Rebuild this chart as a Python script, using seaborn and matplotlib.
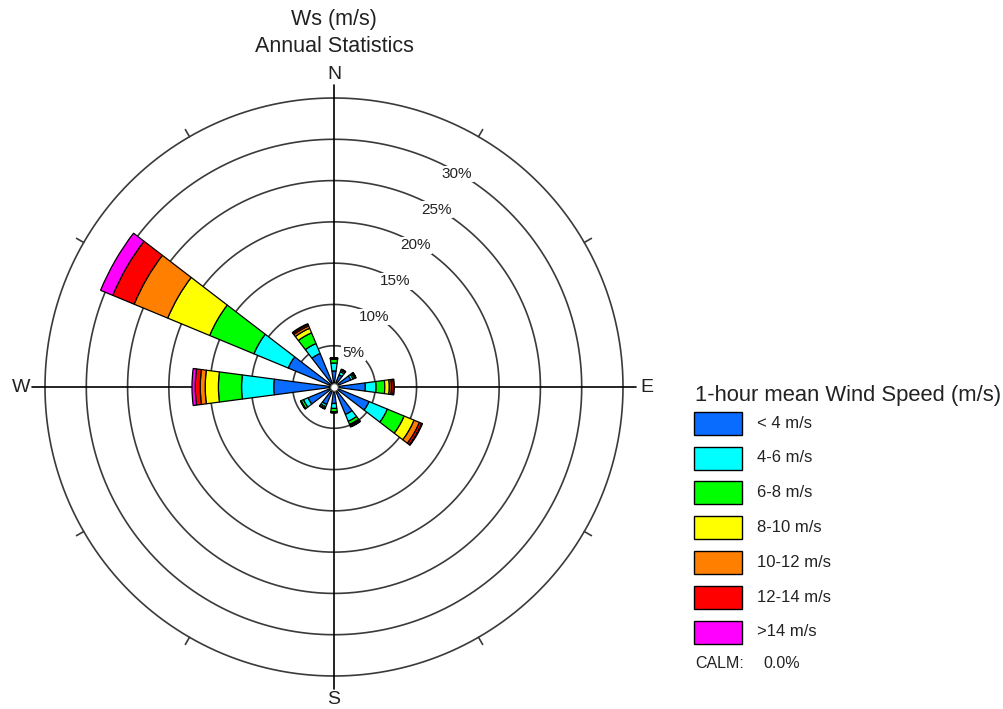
import numpy as np
import pandas as pd
import seaborn as sns
import matplotlib
matplotlib.use("Agg")
import matplotlib.pyplot as plt
from matplotlib.patches import Rectangle

# Direction sectors (degrees, clockwise from north)
directions = [0, 30, 60, 90, 120, 150, 180, 210, 240, 270, 300, 330]

# Frequency (%) of each speed class per direction
speed_classes = ["< 4 m/s", "4-6 m/s", "6-8 m/s", "8-10 m/s", "10-12 m/s", "12-14 m/s", ">14 m/s"]
lt4 = [1.95, 1.6, 2.2, 3.8, 4.6, 3.6, 2.0, 2.3, 3.4, 7.3, 6.0, 4.4]
s4_6 = [0.95, 0.4, 0.3, 1.3, 2.4, 0.9, 0.6, 0.3, 0.6, 3.9, 4.5, 1.3]
s6_8 = [0.45, 0.2, 0.2, 1.05, 2.2, 0.4, 0.4, 0.2, 0.3, 2.8, 5.8, 1.4]
s8_10 = [0.1, 0.05, 0.1, 0.55, 1.3, 0.1, 0.05, 0.05, 0.05, 1.6, 5.5, 0.6]
s10_12 = [0.05, 0.05, 0.05, 0.25, 0.7, 0.1, 0.05, 0.05, 0.05, 0.6, 4.4, 0.3]
s12_14 = [0.05, 0.05, 0.05, 0.25, 0.3, 0.1, 0.05, 0.0, 0.0, 0.6, 2.8, 0.2]
gt14 = [0.0, 0.0, 0.0, 0.1, 0.1, 0.05, 0.0, 0.0, 0.0, 0.4, 1.6, 0.1]
class_colors = ["#0A6CFF", "#00FFFF", "#00FF00", "#FFFF00", "#FF8000", "#FF0000", "#FF00FF"]

ring_levels = [5, 10, 15, 20, 25, 30, 35]
ring_labels = ["5%", "10%", "15%", "20%", "25%", "30%"]
compass = ["N", "E", "S", "W"]
calm_value = "0.0%"

df = pd.DataFrame(
    {"direction": directions, **dict(zip(speed_classes, [lt4, s4_6, s6_8, s8_10, s10_12, s12_14, gt14]))}
)

sns.set_style("white")
palette = sns.color_palette(class_colors)
font = ["Liberation Sans", "DejaVu Sans"]
plt.rcParams["font.family"] = font
txt_color = "#222222"

W, H = 1004, 709
fig = plt.figure(figsize=(W / 100, H / 100), dpi=100)
cx, cy, R = 334, 387, 289
ax = fig.add_axes([(cx - R) / W, (H - cy - R) / H, 2 * R / W, 2 * R / H], projection="polar")
ax.set_theta_zero_location("N")
ax.set_theta_direction(-1)
rmax = ring_levels[-1]
ax.set_ylim(0, rmax)
ax.grid(False)
ax.set_xticks([])
ax.set_yticks([])
ax.spines["polar"].set_visible(False)
ax.patch.set_alpha(0)

# Concentric rings
theta = np.linspace(0, 2 * np.pi, 721)
for lvl in ring_levels:
    ax.plot(theta, np.full_like(theta, lvl), color="#3a3a3a", lw=1.2, zorder=1, clip_on=False)

# Cross hairs and outer tick marks
for ang in range(0, 360, 90):
    t = np.deg2rad(ang)
    ax.plot([t, t], [0, 36.6], color="black", lw=1.2, zorder=2, clip_on=False)
for ang in range(0, 360, 30):
    if ang % 90:
        t = np.deg2rad(ang)
        ax.plot([t, t], [rmax, 36.0], color="#3a3a3a", lw=1.2, zorder=2, clip_on=False)

# Stacked wind-rose bars
width = np.deg2rad(15)
theta_dir = np.deg2rad(df["direction"].to_numpy())
bottom = np.zeros(len(df))
for cls, col in zip(speed_classes, palette):
    vals = df[cls].to_numpy()
    mask = vals > 0
    ax.bar(theta_dir[mask], vals[mask], width=width, bottom=bottom[mask], color=col,
           edgecolor="black", linewidth=0.9, zorder=3)
    bottom += vals

# Calm circle
ax.scatter([0], [0], s=30, color="white", edgecolors="#555555", linewidths=0.8, zorder=5)

# Ring labels along 30 degree bearing
for lvl, lab in zip(ring_levels[:-1], ring_labels):
    ax.text(np.deg2rad(30), lvl - 0.2, lab, ha="center", va="center", fontsize=11,
            color=txt_color, zorder=4,
            bbox=dict(facecolor="white", edgecolor="none", pad=1.0))

# Compass labels
for ang, lab in zip([0, 90, 180, 270], compass):
    ax.text(np.deg2rad(ang), 37.9, lab, ha="center", va="center", fontsize=14,
            color=txt_color, clip_on=False)

# Titles
fig.text(cx / W, 1 - 19 / H, "Ws (m/s)", ha="center", va="center", fontsize=15.5, color=txt_color)
fig.text(cx / W, 1 - 46.5 / H, "Annual Statistics", ha="center", va="center", fontsize=15.5,
         color=txt_color)

# Legend
fig.text(695 / W, 1 - 395 / H, "1-hour mean Wind Speed (m/s)", ha="left", va="center",
         fontsize=15.8, color=txt_color)
for i, (lab, col) in enumerate(zip(speed_classes, palette)):
    top = 411.7 + i * 34.8
    fig.add_artist(Rectangle((694 / W, 1 - (top + 23) / H), 48 / W, 23 / H,
                             transform=fig.transFigure, facecolor=col, edgecolor="black", lw=1.0))
    fig.text(757 / W, 1 - (top + 11.5) / H, lab, ha="left", va="center", fontsize=12,
             color=txt_color)
fig.text(695 / W, 1 - 663 / H, "CALM:", ha="left", va="center", fontsize=11.5, color=txt_color)
fig.text(763 / W, 1 - 663 / H, calm_value, ha="left", va="center", fontsize=11.5, color=txt_color)

fig.savefig("out.png", dpi=100, facecolor="white")
